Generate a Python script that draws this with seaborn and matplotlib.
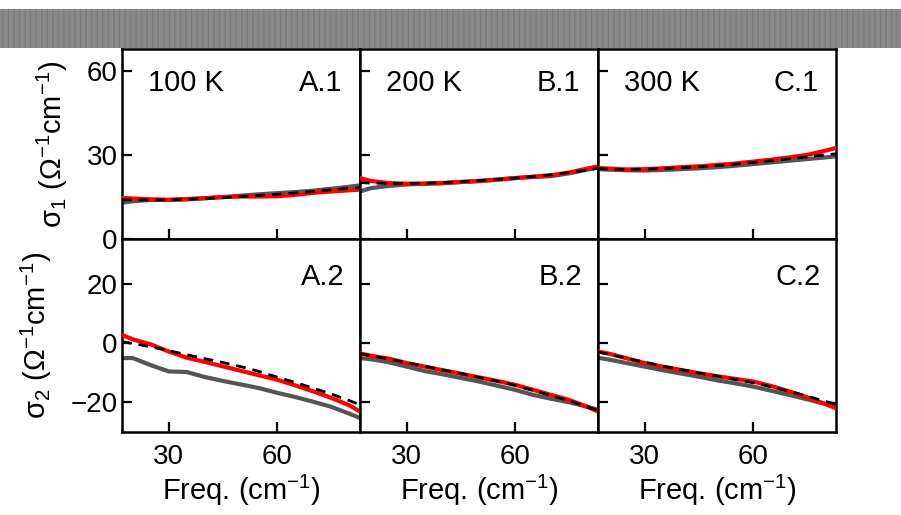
import matplotlib
matplotlib.use("Agg")
import matplotlib.pyplot as plt
import seaborn as sns
import numpy as np
from matplotlib.patches import Rectangle

sns.set_style("ticks")
plt.rcParams['font.family'] = ['Liberation Sans', 'DejaVu Sans']
plt.rcParams['mathtext.fontset'] = 'custom'
plt.rcParams['mathtext.rm'] = 'Liberation Sans'
plt.rcParams['mathtext.it'] = 'Liberation Sans'
for k in ['text.color', 'axes.labelcolor', 'xtick.color', 'ytick.color', 'axes.edgecolor']:
    plt.rcParams[k] = 'black'

freq = [17, 20, 25, 30, 35, 40, 45, 50, 55, 60, 65, 70, 75, 80, 83]

# sigma_1 (top row)
a1_grey = [13.0, 13.5, 14.0, 14.0, 14.3, 14.6, 15.0, 15.5, 16.0, 16.4, 16.8, 17.3, 18.0, 18.7, 19.2]
a1_red = [14.7, 14.5, 14.2, 14.0, 14.2, 14.6, 15.0, 15.2, 15.2, 15.3, 15.8, 16.5, 17.0, 17.4, 17.7]
a1_fit = [14.0, 14.0, 14.0, 14.0, 14.2, 14.5, 14.8, 15.2, 15.6, 16.0, 16.5, 17.0, 17.6, 18.1, 18.4]

b1_grey = [17.0, 18.2, 19.0, 19.5, 19.8, 20.0, 20.4, 20.8, 21.3, 21.8, 22.2, 22.5, 23.5, 24.8, 25.6]
b1_red = [21.8, 20.8, 20.0, 19.8, 19.8, 20.0, 20.4, 20.7, 21.2, 21.8, 22.3, 22.8, 23.8, 25.2, 26.0]
b1_fit = [20.2, 20.0, 19.9, 19.9, 20.0, 20.2, 20.5, 20.9, 21.3, 21.8, 22.4, 23.0, 23.8, 24.7, 25.3]

c1_grey = [25.0, 24.8, 24.6, 24.5, 24.7, 25.0, 25.3, 25.7, 26.2, 26.8, 27.4, 28.0, 28.6, 29.2, 29.6]
c1_red = [25.4, 25.2, 24.9, 25.0, 25.3, 25.7, 26.0, 26.5, 27.0, 27.7, 28.4, 29.2, 30.1, 31.6, 32.6]
c1_fit = [25.2, 25.0, 24.9, 25.0, 25.2, 25.5, 25.9, 26.3, 26.8, 27.4, 28.0, 28.7, 29.4, 30.1, 30.5]

# sigma_2 (bottom row)
a2_grey = [-5.1, -5.1, -7.5, -9.6, -9.8, -11.5, -12.8, -14.0, -15.2, -16.8, -18.2, -19.8, -21.5, -23.8, -25.3]
a2_red = [2.7, 1.2, -0.5, -2.9, -5.0, -6.4, -7.9, -9.4, -10.9, -12.4, -14.3, -16.3, -18.5, -21.0, -23.1]
a2_fit = [0.4, -0.2, -1.3, -2.6, -4.0, -5.3, -6.6, -8.0, -9.6, -11.5, -13.3, -15.2, -17.2, -19.4, -20.8]

b2_grey = [-5.1, -5.5, -6.5, -8.0, -9.5, -10.6, -11.8, -13.0, -14.4, -15.8, -17.5, -18.8, -20.0, -21.5, -22.5]
b2_red = [-3.5, -4.3, -5.3, -6.8, -8.0, -9.2, -10.4, -11.6, -12.8, -14.1, -15.8, -17.5, -19.2, -21.5, -23.1]
b2_fit = [-3.6, -4.3, -5.4, -6.6, -7.9, -9.1, -10.3, -11.6, -12.9, -14.3, -16.0, -17.7, -19.5, -21.5, -22.8]

c2_grey = [-5.0, -5.6, -6.8, -8.0, -9.2, -10.3, -11.4, -12.6, -13.6, -14.7, -16.1, -17.5, -19.0, -20.5, -21.5]
c2_red = [-2.9, -3.6, -5.2, -6.8, -8.0, -9.1, -10.2, -11.2, -12.1, -13.0, -14.5, -16.3, -18.3, -20.6, -22.0]
c2_fit = [-3.0, -3.8, -5.2, -6.5, -7.8, -9.0, -10.1, -11.2, -12.3, -13.4, -14.8, -16.3, -17.9, -19.7, -20.5]

temps = ["100 K", "200 K", "300 K"]
top_tags = ["A.1", "B.1", "C.1"]
bot_tags = ["A.2", "B.2", "C.2"]
xticks = [30, 60]
top_yticks = [0, 30, 60]
bot_yticks = [-20, 0, 20]

top_data = [(a1_grey, a1_red, a1_fit), (b1_grey, b1_red, b1_fit), (c1_grey, c1_red, c1_fit)]
bot_data = [(a2_grey, a2_red, a2_fit), (b2_grey, b2_red, b2_fit), (c2_grey, c2_red, c2_fit)]

W, H = 901, 515
fig = plt.figure(figsize=(W / 100, H / 100), dpi=100)

left_px, right_px = 122, 836
col_w = (right_px - left_px) / 3
top_px, mid_px, bot_px = 49, 239, 432

def add_ax(col, y0, y1):
    x0 = left_px + col * col_w
    return fig.add_axes([x0 / W, 1 - y1 / H, col_w / W, (y1 - y0) / H])

fs_tick = 20
fs_xlab = 21
fs_ylab = 21
fs_txt = 21
for col in range(3):
    for row, (data, y0, y1) in enumerate([(top_data, top_px, mid_px), (bot_data, mid_px, bot_px)]):
        ax = add_ax(col, y0, y1)
        grey, red, fit = data[col]
        sns.lineplot(x=freq, y=grey, ax=ax, color="#555555", lw=3.0, zorder=2)
        sns.lineplot(x=freq, y=red, ax=ax, color="#ff0000", lw=3.0, zorder=3)
        sns.lineplot(x=freq, y=fit, ax=ax, color="black", lw=2.0, ls=(0, (3.5, 2.5)), zorder=4)
        ax.set_xlim(17, 83)
        ax.set_xticks(xticks)
        if row == 0:
            ax.set_ylim(0, 68)
            ax.set_yticks(top_yticks)
            ax.text(0.11, 0.82, temps[col], transform=ax.transAxes, fontsize=fs_txt,
                    ha="left", va="center")
            ax.text(0.925, 0.82, top_tags[col], transform=ax.transAxes, fontsize=fs_txt,
                    ha="right", va="center")
            ax.tick_params(axis="x", labelbottom=False)
            ax.set_xlabel("")
        else:
            ax.set_ylim(-30, 35)
            ax.set_yticks(bot_yticks)
            ax.text(0.935, 0.805, bot_tags[col], transform=ax.transAxes, fontsize=fs_txt,
                    ha="right", va="center")
            ax.set_xlabel("Freq. (cm$^{-1}$)", fontsize=fs_xlab, labelpad=2)
        if col == 0:
            if row == 0:
                ax.set_ylabel("σ$_1$ (Ω$^{-1}$cm$^{-1}$)", fontsize=fs_ylab, labelpad=12)
            else:
                ax.set_ylabel("σ$_2$ (Ω$^{-1}$cm$^{-1}$)", fontsize=fs_ylab, labelpad=12)
        else:
            ax.tick_params(axis="y", labelleft=False)
            ax.set_ylabel("")
        ax.tick_params(direction="in", length=7, width=1.6, labelsize=fs_tick)
        ax.tick_params(axis="x", pad=9)
        ax.tick_params(axis="y", pad=3)
        for s in ax.spines.values():
            s.set_linewidth(1.8)
            s.set_visible(True)
            s.set_color("black")

# grey band on top
band = Rectangle((0, 1 - 48 / H), 1, 39 / H, transform=fig.transFigure,
                 facecolor="#8a8a8a", edgecolor="#7a7a7a", hatch="|||", lw=0, zorder=10)
fig.patches.append(band)

fig.savefig("out.png", dpi=100)
